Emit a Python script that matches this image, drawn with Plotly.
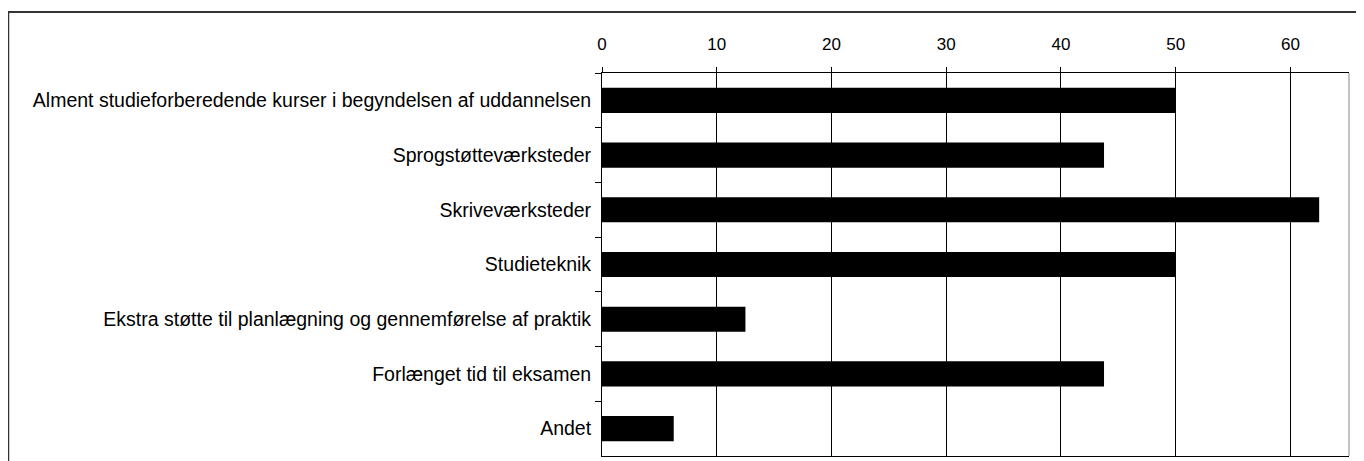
import plotly.graph_objects as go

categories = [
    "Alment studieforberedende kurser i begyndelsen af uddannelsen",
    "Sprogstøtteværksteder",
    "Skriveværksteder",
    "Studieteknik",
    "Ekstra støtte til planlægning og gennemførelse af praktik",
    "Forlænget tid til eksamen",
    "Andet",
]
values = [50, 43.75, 62.5, 50, 12.5, 43.75, 6.25]
x_ticks = [0, 10, 20, 30, 40, 50, 60]

# page has an 8px body margin; figure sized to fit the viewport
OFF = 8
W, H = 1364 - OFF, 461 - OFF
L, R, T, B = 602 - OFF, 1349 - OFF, 73 - OFF, 456 - OFF

fig = go.Figure(go.Bar(
    x=values, y=categories, orientation="h",
    marker=dict(color="black", line=dict(width=0)),
    width=0.46,
))

def px(xp):
    return (xp - L) / (R - L)

def py(yp):
    return (B - yp) / (B - T)

fig.update_layout(
    width=W, height=H,
    margin=dict(l=L, r=W - R, t=T, b=H - B, autoexpand=False),
    paper_bgcolor="white", plot_bgcolor="white",
    font=dict(family="Liberation Sans, Arial, sans-serif", size=19.5, color="black"),
    showlegend=False,
    xaxis=dict(
        side="top", range=[0, 65.1], tickvals=x_ticks,
        showgrid=True, gridcolor="black", gridwidth=1,
        showline=True, linecolor="black", linewidth=1, mirror=True,
        ticks="outside", ticklen=5, tickcolor="black",
        ticklabelstandoff=10, tickfont=dict(size=17), zeroline=False,
    ),
    yaxis=dict(
        autorange="reversed", tickson="boundaries",
        showline=True, linecolor="black", linewidth=1,
        ticks="outside", ticklen=6, tickcolor="black",
        ticklabelstandoff=6, showgrid=False,
    ),
    shapes=[
        dict(type="line", xref="paper", yref="paper", x0=1, x1=1, y0=0, y1=1,
             line=dict(color="#888888", width=1)),
        dict(type="line", xref="paper", yref="paper", x0=px(0), x1=px(W), y0=py(4), y1=py(4),
             line=dict(color="#333333", width=2)),
        dict(type="line", xref="paper", yref="paper", x0=px(0.5), x1=px(0.5), y0=py(4), y1=py(H + 5),
             line=dict(color="#333333", width=1.5)),
    ],
)

fig.write_html("out.html")
